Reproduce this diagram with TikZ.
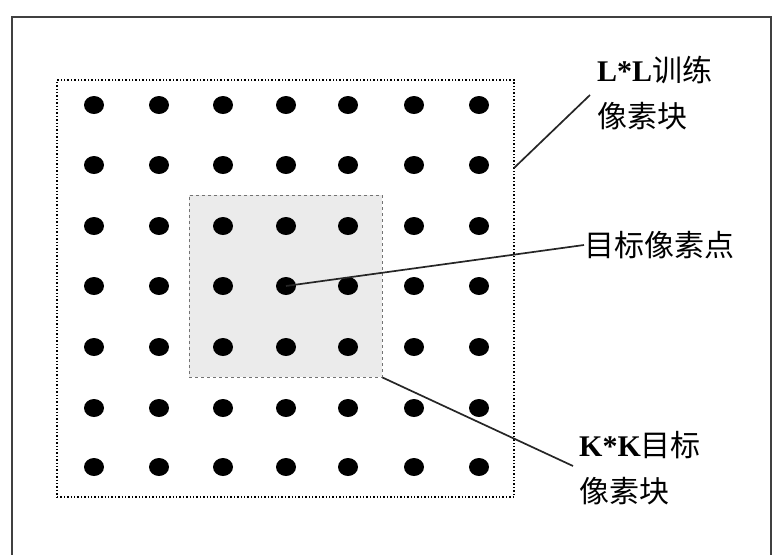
\documentclass[tikz,border=0pt]{standalone}
\usepackage{fontspec}
\setmainfont{Liberation Serif}
\newfontfamily\cjk{Noto Sans CJK SC}
\begin{document}
\begin{tikzpicture}[x=1pt,y=-1pt,
  pix/.style={ellipse,fill=black,minimum width=20pt,minimum height=18pt,inner sep=0pt},
  lead/.style={line width=1.7pt,black!85},
  lbl/.style={anchor=west,align=left,inner sep=0pt,font=\fontsize{30}{46}\selectfont},
]
\usetikzlibrary{shapes.geometric}
\useasboundingbox (0,0) rectangle (775,554);
% outer frame
\draw[line width=1.8pt,black!75] (12,560) -- (12,17) -- (771,17) -- (771,560);
% big dotted box
\node[draw=black,dotted,line width=1.4pt,minimum width=457pt,minimum height=417pt,inner sep=0pt] (big) at (285.5,288.5) {};
% gray box
\node[draw=black!55,dashed,fill=black!8,line width=1pt,minimum width=193pt,minimum height=182pt,inner sep=0pt] (small) at (285.5,286) {};
% dots
\foreach \c/\x in {1/94,2/159,3/223,4/286,5/348,6/414,7/479}{
  \foreach \r/\y in {1/105,2/165,3/226,4/286,5/347,6/408,7/467}{
    \node[pix] (d\c-\r) at (\x,\y) {};
  }
}
% labels
\node[lbl] (ll) at (597,93) {\textbf{L*L}{\cjk 训练}\\{\cjk 像素块}};
\node[lbl] (tp) at (584,245) {{\cjk 目标像素点}};
\node[lbl] (kk) at (579,468) {\textbf{K*K}{\cjk 目标}\\{\cjk 像素块}};
% connectors
\coordinate (llstart) at (514,168);
\coordinate (llend) at (590,95);
\coordinate (kkend) at (573,466);
\draw[lead] (llstart) -- (llend);
\draw[lead] (d4-4.center) -- (tp.west);
\draw[lead] (small.south east) -- (kkend);
\end{tikzpicture}
\end{document}
